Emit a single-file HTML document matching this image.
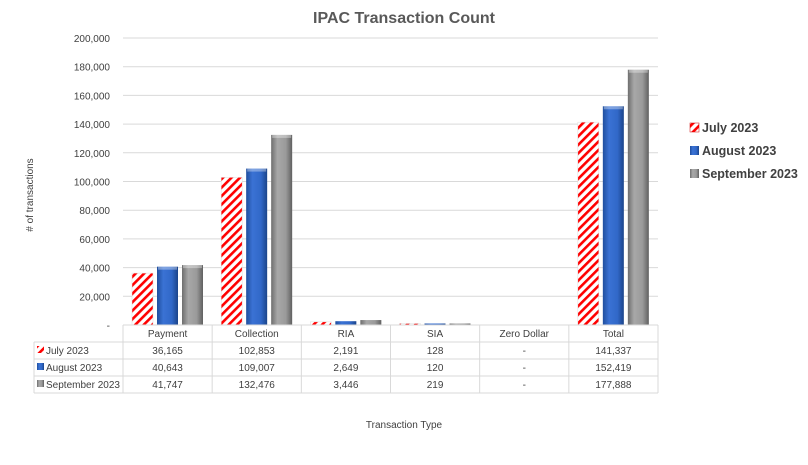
<!DOCTYPE html>
<html><head><meta charset="utf-8"><style>
html,body{margin:0;padding:0;background:#fff;}
svg{display:block;font-family:"Liberation Sans",sans-serif;}
</style></head><body>
<svg id="s" width="808" height="465" viewBox="0 0 808 465">
<defs>
<pattern id="hatch" patternUnits="userSpaceOnUse" width="6" height="6" patternTransform="rotate(45)">
<rect width="6" height="6" fill="#fff"/><rect width="2.6" height="6" fill="#f00"/>
</pattern>
<linearGradient id="blue" x1="0" x2="1"><stop offset="0" stop-color="#1f4e9e"/><stop offset="0.3" stop-color="#3a72d4"/><stop offset="0.7" stop-color="#3168c8"/><stop offset="1" stop-color="#1b448a"/></linearGradient>
<linearGradient id="gray" x1="0" x2="1"><stop offset="0" stop-color="#6e6e6e"/><stop offset="0.3" stop-color="#a8a8a8"/><stop offset="0.7" stop-color="#9a9a9a"/><stop offset="1" stop-color="#606060"/></linearGradient>
</defs>
<text x="404" y="23" text-anchor="middle" font-size="16" font-weight="bold" fill="#595959">IPAC Transaction Count</text>
<g id="grid"></g>
<g id="bars"></g>
<g id="tbl" stroke="#d9d9d9" stroke-width="1" fill="none"></g>
<g id="ttext" font-size="10" fill="#404040" text-anchor="middle"></g>
<text transform="translate(33,195) rotate(-90)" text-anchor="middle" font-size="10" fill="#404040"># of transactions</text>
<text x="404" y="428" text-anchor="middle" font-size="10" fill="#404040">Transaction Type</text>
<g font-size="12.5" font-weight="bold" fill="#404040">
<rect x="690" y="123" width="9" height="9" fill="url(#hatch)" stroke="#c00" stroke-width="0.5"/><text x="702" y="132">July 2023</text>
<rect x="690" y="146" width="9" height="9" fill="url(#blue)"/><text x="702" y="155">August 2023</text>
<rect x="690" y="169" width="9" height="9" fill="url(#gray)"/><text x="702" y="178">September 2023</text>
</g>
</svg>
<script>
var NS="http://www.w3.org/2000/svg";
function el(p,t,a,txt){var e=document.createElementNS(NS,t);for(var k in a)e.setAttribute(k,a[k]);if(txt!=null)e.textContent=txt;document.getElementById(p).appendChild(e);return e;}
var y0=325,sc=287/200000;
for(var i=0;i<=10;i++){var v=i*20000,y=y0-v*sc;
 if(i>0)el("grid","line",{x1:123,x2:658,y1:y,y2:y,stroke:"#d9d9d9","stroke-width":1});
 el("grid","text",{x:110,y:y+4,"text-anchor":"end","font-size":"10",fill:"#404040"},i==0?"-":v.toLocaleString("en-US"));}
var cats=["Payment","Collection","RIA","SIA","Zero Dollar","Total"];
var data=[[36165,102853,2191,128,0,141337],[40643,109007,2649,120,0,152419],[41747,132476,3446,219,0,177888]];
var fills=["url(#hatch)","url(#blue)","url(#gray)"];
var cw=(658-123)/6;
for(var c=0;c<6;c++){var cx=123+c*cw;
 for(var s=0;s<3;s++){var v=data[s][c];if(!v)continue;var h=Math.max(v*sc,1.5);
  el("bars","rect",{x:cx+9+s*25,y:y0-h,width:21,height:h,fill:fills[s],stroke:s==0?"#ddd":"none","stroke-width":0.5});
  if(s>0&&h>6)el("bars","rect",{x:cx+10+s*25,y:y0-h,width:19,height:3,fill:"#fff",opacity:0.35});
 }}
var xs=[34,123];for(var c=1;c<=6;c++)xs.push(123+c*cw);
var rows=[325,342,359,376,393];
el("tbl","line",{x1:123,x2:658,y1:325,y2:325});
for(var r=1;r<5;r++)el("tbl","line",{x1:34,x2:658,y1:rows[r],y2:rows[r]});
el("tbl","line",{x1:34,x2:34,y1:342,y2:393});
for(var c=1;c<xs.length;c++)el("tbl","line",{x1:xs[c],x2:xs[c],y1:325,y2:393});
for(var c=0;c<6;c++)el("ttext","text",{x:123+c*cw+cw/2,y:337},cats[c]);
var names=["July 2023","August 2023","September 2023"];
for(var s=0;s<3;s++){var y=rows[s+1]+12;
 el("ttext","rect",{x:37,y:y-8,width:7,height:7,fill:fills[s]});
 el("ttext","text",{x:46,y:y,"text-anchor":"start"},names[s]);
 for(var c=0;c<6;c++){var v=data[s][c];el("ttext","text",{x:123+c*cw+cw/2,y:y},v?v.toLocaleString("en-US"):"-");}}
</script>
</body></html>
